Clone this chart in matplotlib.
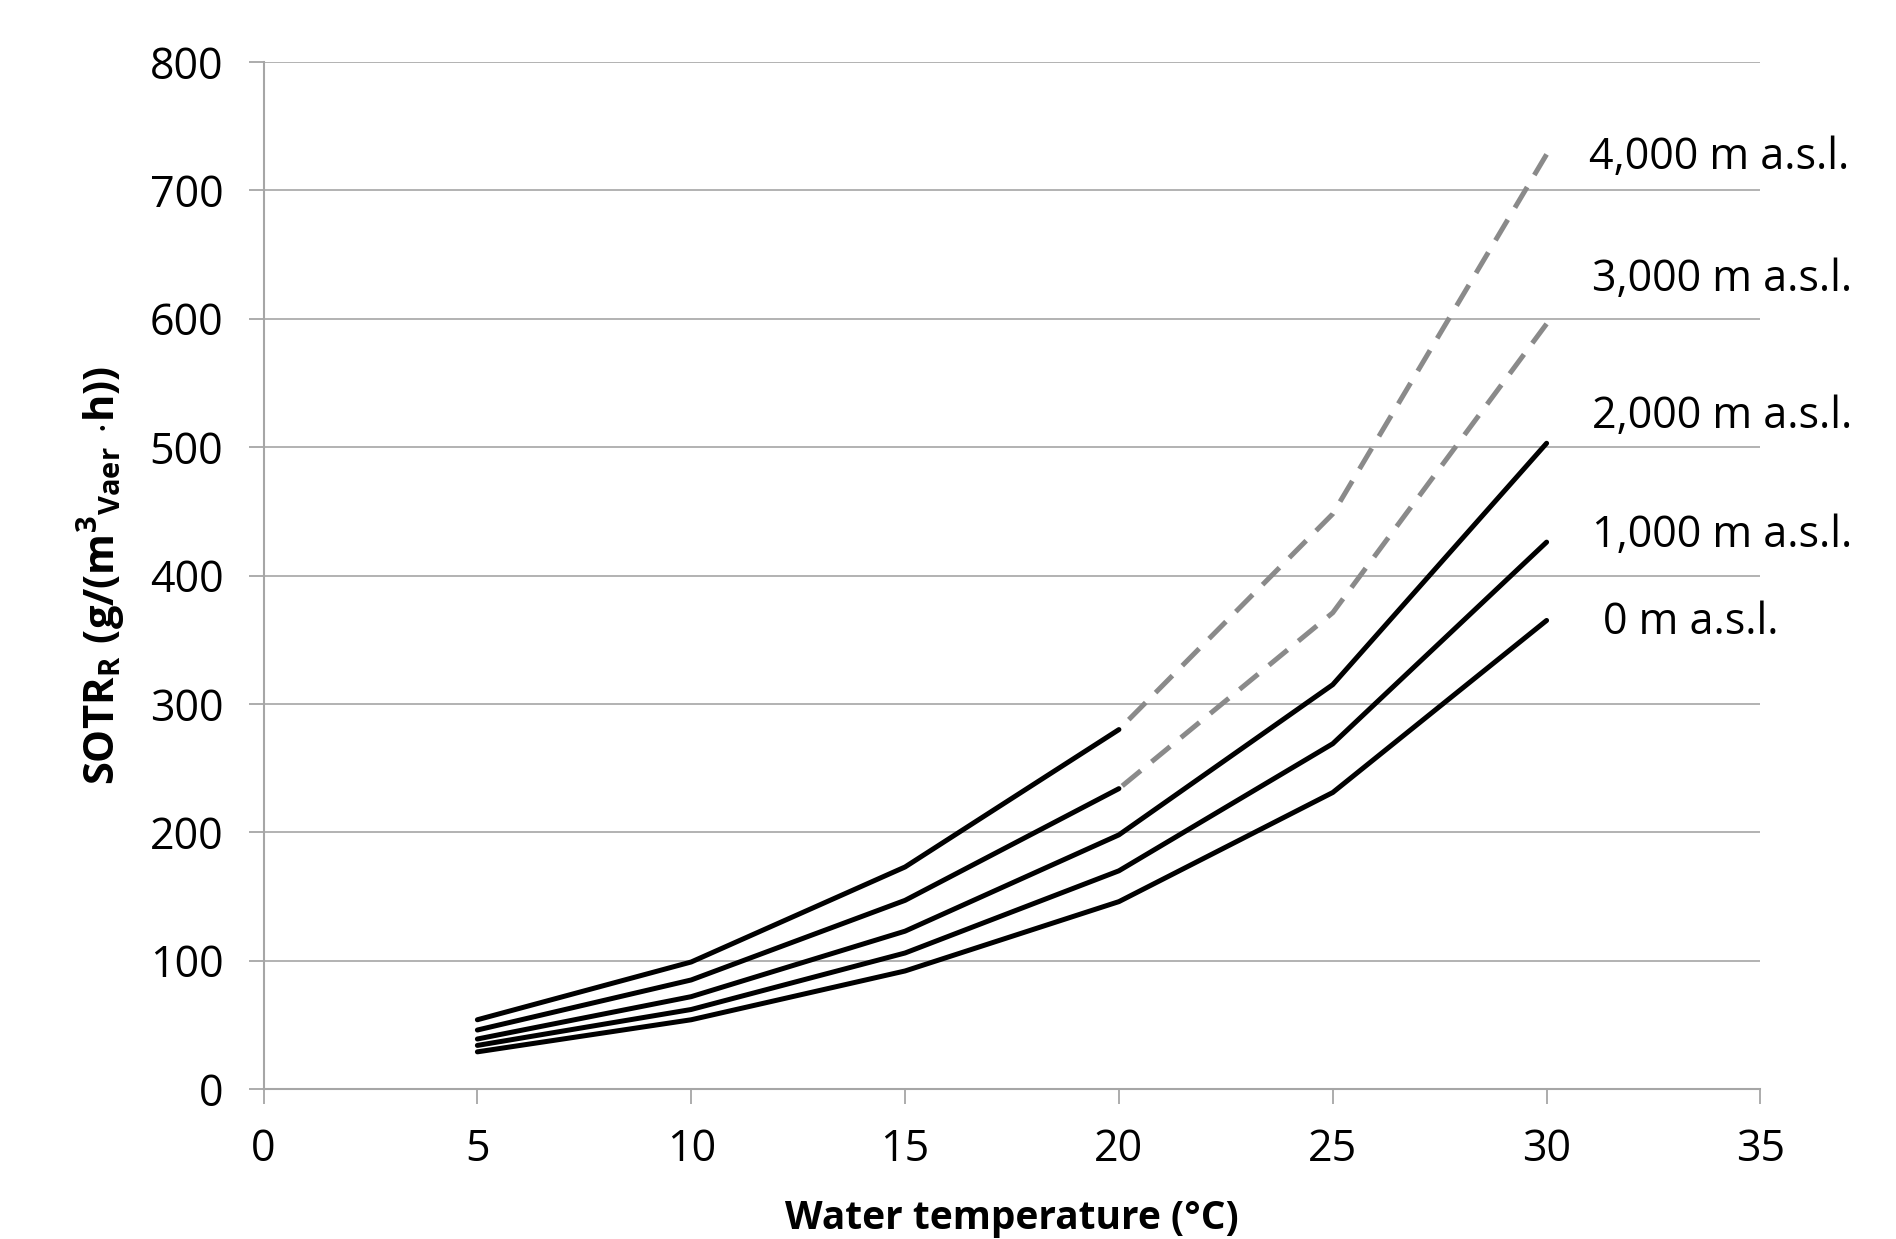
import matplotlib
matplotlib.use("Agg")
import matplotlib.pyplot as plt

temps = [5, 10, 15, 20, 25, 30]
alt_labels = ["0 m a.s.l.", "1,000 m a.s.l.", "2,000 m a.s.l.", "3,000 m a.s.l.", "4,000 m a.s.l."]
sotr_0 = [29, 54, 92, 146, 231, 365]
sotr_1000 = [34, 62, 106, 170, 269, 426]
sotr_2000 = [39, 72, 123, 198, 315, 503]
sotr_3000 = [46, 85, 147, 234, 371, 596]
sotr_4000 = [54, 99, 173, 280, 448, 728]
label_y = [363, 431, 524, 630, 725]
label_x = [31.32, 31.07, 31.07, 31.07, 30.98]

plt.rcParams['font.family'] = ['Open Sans', 'DejaVu Sans']
plt.rcParams['mathtext.fontset'] = 'custom'
plt.rcParams['mathtext.rm'] = 'Open Sans'
plt.rcParams['mathtext.bf'] = 'Open Sans:bold'

fig = plt.figure(figsize=(18.96, 12.39), dpi=100)
ax = fig.add_axes([0.139, 0.121, 0.7895, 0.829])

grid_c = '#a6a6a6'
ax.set_xlim(0, 35)
ax.set_ylim(0, 800)
ax.set_xticks(range(0, 36, 5))
ax.set_yticks(range(0, 801, 100))
ax.yaxis.grid(True, color=grid_c, linewidth=1.2)
ax.set_axisbelow(True)
for s in ['top', 'right']:
    ax.spines[s].set_visible(False)
for s in ['left', 'bottom']:
    ax.spines[s].set_color(grid_c)
    ax.spines[s].set_linewidth(1.5)
ax.tick_params(axis='both', colors=grid_c, length=11, width=1.3, labelsize=31, labelcolor='black')
ax.tick_params(axis='x', pad=17)
ax.tick_params(axis='y', pad=18)

lw = 3.6
black = '#000000'
gray = '#8a8a8a'
ax.plot(temps, sotr_0, color=black, lw=lw, solid_capstyle='round', solid_joinstyle='round')
ax.plot(temps, sotr_1000, color=black, lw=lw, solid_capstyle='round', solid_joinstyle='round')
ax.plot(temps, sotr_2000, color=black, lw=lw, solid_capstyle='round', solid_joinstyle='round')
for series in (sotr_3000, sotr_4000):
    ax.plot(temps[:4], series[:4], color=black, lw=lw, solid_capstyle='round', solid_joinstyle='round')
    # dashed part drawn from the top end down so a dash sits at the line's end
    ax.plot(temps[3:][::-1], series[3:][::-1], color=gray, lw=lw,
            linestyle=(0, (4.8, 2.8)), dash_capstyle='butt')

for lx, ly, t in zip(label_x, label_y, alt_labels):
    ax.text(lx, ly, t, fontsize=31, va='center', ha='left', clip_on=False)

ax.set_xlabel('Water temperature (°C)', fontsize=28, fontweight='bold', labelpad=19)
ax.set_ylabel(r'$\mathbf{SOTR_R\ (g/(m^3{}_{Vaer}\ {\cdot}h))}$', fontsize=30, labelpad=16)

fig.savefig('out.png', dpi=100, facecolor='white')
